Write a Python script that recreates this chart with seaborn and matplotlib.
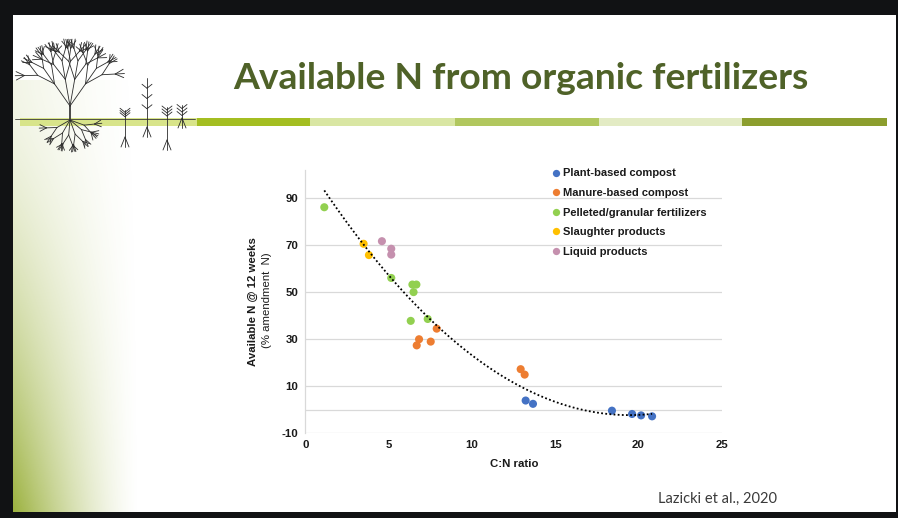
import numpy as np
import pandas as pd
import matplotlib.pyplot as plt
import seaborn as sns
from matplotlib.lines import Line2D
from matplotlib.patches import Rectangle

# data
plant_x = [13.23, 13.67, 18.41, 19.62, 20.16, 20.82]
plant_y = [3.9, 2.5, -0.4, -1.8, -2.4, -2.8]
manure_x = [7.89, 6.83, 6.69, 7.53, 12.93, 13.17]
manure_y = [34.4, 29.9, 27.3, 28.9, 17.2, 14.9]
pellet_x = [1.14, 5.16, 6.43, 6.67, 6.50, 6.33, 7.35]
pellet_y = [85.9, 55.9, 53.1, 53.1, 49.9, 37.7, 38.5]
slaughter_x = [3.50, 3.82]
slaughter_y = [70.4, 65.6]
liquid_x = [4.60, 5.16, 5.16]
liquid_y = [71.5, 68.3, 65.8]

groups = ['Plant-based compost', 'Manure-based compost', 'Pelleted/granular fertilizers',
          'Slaughter products', 'Liquid products']
colors = ['#4472C4', '#ED7D31', '#92D050', '#FFC000', '#C590AE']
x_ticks = [0, 5, 10, 15, 20, 25]
y_ticks = [-10, 10, 30, 50, 70, 90]

frames = []
for name, xs, ys in zip(groups,
                        [plant_x, manure_x, pellet_x, slaughter_x, liquid_x],
                        [plant_y, manure_y, pellet_y, slaughter_y, liquid_y]):
    frames.append(pd.DataFrame({'cn': xs, 'avail': ys, 'group': name}))
df = pd.concat(frames, ignore_index=True)

sns.set_style('white')
plt.rcParams['font.family'] = ['Liberation Sans', 'DejaVu Sans']
plt.rcParams['axes.unicode_minus'] = False

W, H = 898, 518
fig = plt.figure(figsize=(W / 100, H / 100), dpi=100, facecolor='#111214')

# --- slide background (pixel coordinates) ---
bg = fig.add_axes([0, 0, 1, 1], zorder=0)
bg.set_xlim(0, W)
bg.set_ylim(H, 0)
bg.axis('off')
bg.add_patch(Rectangle((13, 15), 883, 497, facecolor='white', edgecolor='none'))

# green fade on the left edge
gx = np.linspace(0, 1, 120)
gy = np.linspace(0, 1, 200)
GX, GY = np.meshgrid(gx, gy)
alpha = np.clip(1 - GX, 0, 1) ** 1.4 * (0.12 + 0.8 * GY ** 1.6)
img = np.zeros((200, 120, 4))
img[..., 0] = 0x93 / 255
img[..., 1] = 0xAB / 255
img[..., 2] = 0x2E / 255
img[..., 3] = alpha
bg.imshow(img, extent=(13, 140, 512, 80), aspect='auto', zorder=1)

# stripe under the title
stripe = [(20, 197, '#D8E48A'), (197, 310, '#A4BE21'), (310, 455, '#D9E6A3'),
          (455, 599, '#B1C75E'), (599, 742, '#E3EBC4'), (742, 887, '#8C9E2E')]
for x0, x1, c in stripe:
    bg.add_patch(Rectangle((x0, 118), x1 - x0, 8, facecolor=c, edgecolor='none', zorder=2))

# simple line-art tree and small plants
ink = dict(color='#2b2b2b', lw=0.6, zorder=3, solid_capstyle='round')


def branch(x, y, ang, length, depth, sign):
    if depth == 0:
        return
    x2 = x + length * np.cos(np.radians(ang))
    y2 = y - sign * length * np.sin(np.radians(ang))
    bg.add_line(Line2D([x, x2], [y, y2], **ink))
    for da in (-26, 0, 28):
        if da == 0 and depth % 2:
            continue
        branch(x2, y2, ang + da, length * 0.7, depth - 1, sign)


bg.add_line(Line2D([70, 70], [120, 106], color='#2b2b2b', lw=1.2, zorder=3))
for a in (55, 80, 100, 125):
    branch(70, 106, a, 27, 4, 1)
for a in (-150, -120, -95, -70, -40, -20):
    branch(70, 120, -a, 15, 3, -1)
bg.add_line(Line2D([15, 195], [119, 119], color='#3a3a3a', lw=0.6, zorder=3))
for px, top, bot in [(125, 110, 147), (147, 78, 137), (167, 107, 150), (182, 105, 128)]:
    bg.add_line(Line2D([px, px], [top, bot], **ink))
    for k in range(3):
        yy = top + (119 - top) * (k + 1) / 4
        bg.add_line(Line2D([px, px - 5], [yy, yy - 4], **ink))
        bg.add_line(Line2D([px, px + 5], [yy, yy - 4], **ink))
    bg.add_line(Line2D([px, px - 4], [bot - 10, bot], **ink))
    bg.add_line(Line2D([px, px + 4], [bot - 10, bot], **ink))

# title and citation
bg.text(521, 89, 'Available N from organic fertilizers', family=['Lato', 'DejaVu Sans'],
        fontweight='bold', fontsize=26.8, color='#4F6228', ha='center', va='baseline', zorder=4)
bg.text(658, 503, 'Lazicki et al., 2020', family=['Lato', 'DejaVu Sans'],
        fontsize=10.5, color='#3a3a3a', ha='left', va='baseline', zorder=4)

# --- chart ---
ax = fig.add_axes([305.3 / W, 1 - 433.3 / H, (721.7 - 305.3) / W, (433.3 - 170) / H], zorder=2)
ax.patch.set_alpha(0)
sns.scatterplot(data=df, x='cn', y='avail', hue='group', hue_order=groups,
                palette=dict(zip(groups, colors)), s=34, edgecolor='none', ax=ax, zorder=3)
sns.regplot(data=df, x='cn', y='avail', order=2, ci=None, scatter=False, truncate=True,
            line_kws=dict(color='black', lw=1.3, ls=(0, (1, 1.3)), zorder=4), ax=ax)

ax.set_xlim(0, 25)
ax.set_ylim(-10, 101.7)
ax.set_xticks(x_ticks)
ax.set_yticks(y_ticks)
ax.grid(False)
for v in y_ticks + [0]:
    ax.axhline(v, color='#D9D9D9', lw=0.9, zorder=1)
for s in ['top', 'right', 'bottom']:
    ax.spines[s].set_visible(False)
ax.spines['left'].set_color('#D9D9D9')
ax.spines['left'].set_linewidth(0.9)
ax.tick_params(length=0, labelsize=8.2, colors='#1a1a1a', pad=5)
for lab in ax.get_xticklabels() + ax.get_yticklabels():
    lab.set_fontweight('bold')
ax.set_xlabel('')
ax.set_ylabel('')

fig.text(514 / W, 1 - 464.3 / H, 'C:N ratio', fontsize=8.2, fontweight='bold',
         color='#1a1a1a', ha='center', va='center')
fig.text(252.7 / W, 1 - 301.7 / H, 'Available N @ 12 weeks', fontsize=8.2, fontweight='bold',
         color='#1a1a1a', rotation=90, ha='center', va='center')
fig.text(266.5 / W, 1 - 300 / H, '(% amendment  N)', fontsize=8.2,
         color='#1a1a1a', rotation=90, ha='center', va='center')

handles, labels = ax.get_legend_handles_labels()
ax.legend(handles, labels, loc='upper left', bbox_to_anchor=(549 / W, 1 - 164 / H),
          bbox_transform=fig.transFigure, frameon=False, fontsize=8, markerscale=0.9,
          handlelength=0.5, handletextpad=0.35, labelspacing=0.86, borderaxespad=0)
for t in ax.get_legend().get_texts():
    t.set_fontweight('bold')
    t.set_color('#1a1a1a')

fig.savefig('out.png', dpi=100, facecolor=fig.get_facecolor())
